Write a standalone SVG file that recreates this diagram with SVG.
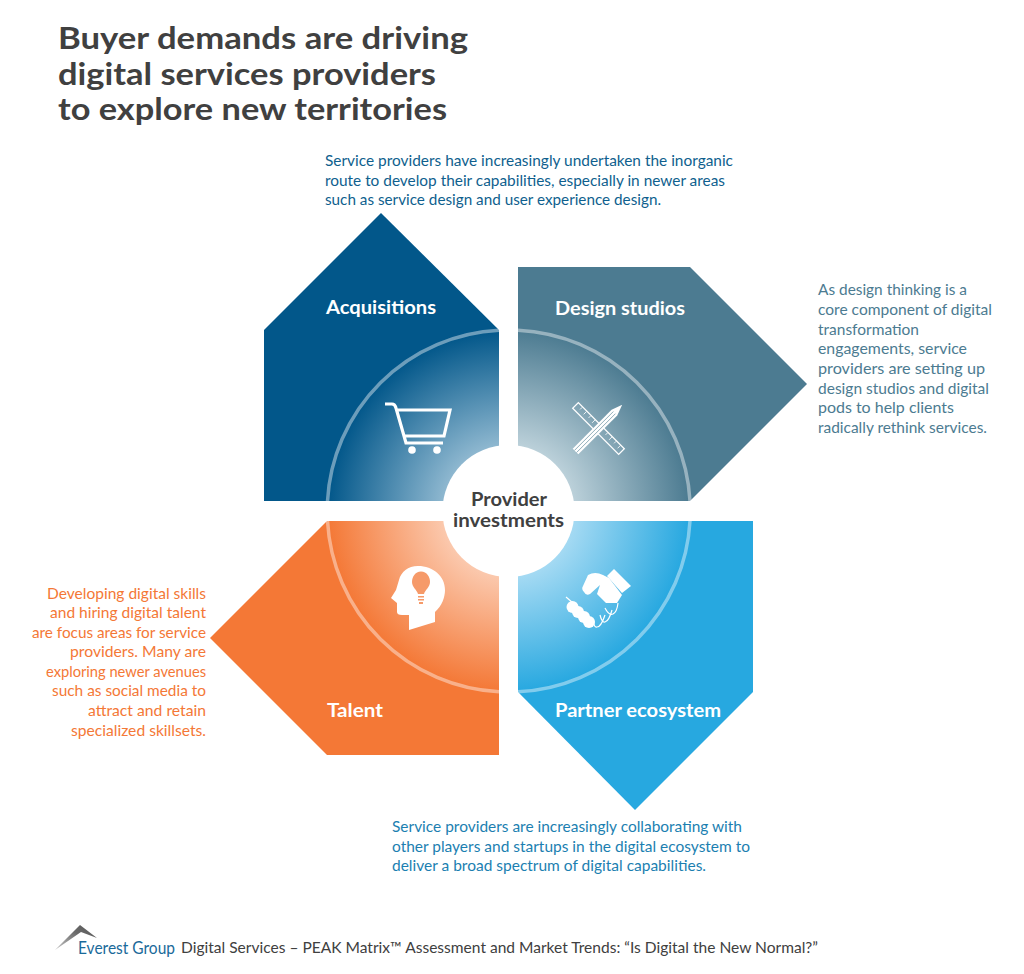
<svg xmlns="http://www.w3.org/2000/svg" width="1024" height="974" viewBox="0 0 1024 974">
<style>
text{font-family:"Lato","Open Sans","Liberation Sans",sans-serif}
.title{font-size:30px;font-weight:700;fill:#404040}
.body{font-size:15px}
.lab{font-size:19.500px;font-weight:700;fill:#fff;text-anchor:middle}
.arc{fill:none;stroke:#fff;stroke-opacity:.42;stroke-width:3.500}
.ico{fill:none;stroke:#fff;stroke-width:3.200}
.w{fill:#fff}
.thin{fill:none;stroke:#fff;stroke-width:1.200}
.end{text-anchor:end}
</style>
<defs>
<radialGradient id="gA" gradientUnits="userSpaceOnUse" cx="508.500" cy="511" r="181"><stop offset=".36" stop-color="#8fb8d0"/><stop offset="1" stop-color="#02578a"/></radialGradient>
<radialGradient id="gD" gradientUnits="userSpaceOnUse" cx="508.500" cy="511" r="181"><stop offset=".36" stop-color="#bcd1da"/><stop offset="1" stop-color="#4c7b91"/></radialGradient>
<radialGradient id="gT" gradientUnits="userSpaceOnUse" cx="508.500" cy="511" r="181"><stop offset=".36" stop-color="#fbc9ae"/><stop offset="1" stop-color="#f47836"/></radialGradient>
<radialGradient id="gP" gradientUnits="userSpaceOnUse" cx="508.500" cy="511" r="181"><stop offset=".36" stop-color="#a5daf3"/><stop offset="1" stop-color="#27a8e0"/></radialGradient>
<linearGradient id="gL" x1="0" y1="1" x2="1" y2="0"><stop offset="0" stop-color="#c8c8c8"/><stop offset=".6" stop-color="#6a6a6a"/><stop offset="1" stop-color="#555"/></linearGradient>
</defs>
<rect width="1024" height="974" fill="#fff"/>
<g id="title">
<text class="title" x="58" y="49" textLength="410" lengthAdjust="spacingAndGlyphs">Buyer demands are driving</text>
<text class="title" x="58" y="85" textLength="378" lengthAdjust="spacingAndGlyphs">digital services providers</text>
<text class="title" x="58" y="120" textLength="389" lengthAdjust="spacingAndGlyphs">to explore new territories</text>
</g>
<g id="acquisitions">
<polygon points="381,213 499,330 499,501 264,501 264,330" fill="#02578a"/>
<path d="M327.500,501A181,181 0 0 1 499,330.200V501Z" fill="url(#gA)"/>
<path class="arc" d="M327.500,501A181,181 0 0 1 499,330.200"/>
<text class="lab" x="381" y="314" textLength="110" lengthAdjust="spacingAndGlyphs">Acquisitions</text>
<g id="icon-cart">
<path class="ico" d="M385,404H392Q395,404 396,408L406,443H443M398,410H450L444,436H404"/>
<circle class="w" cx="412" cy="450" r="3.800"/><circle class="w" cx="437" cy="450" r="3.800"/>
</g>
</g>
<g id="design-studios">
<polygon points="518,267 690,267 807,384 690,501 518,501" fill="#4c7b91"/>
<path d="M518,330.200A181,181 0 0 1 690,501H518Z" fill="url(#gD)"/>
<path class="arc" d="M518,330.200A181,181 0 0 1 690,501"/>
<text class="lab" x="620" y="315" textLength="130" lengthAdjust="spacingAndGlyphs">Design studios</text>
<g id="icon-tools">
<g transform="rotate(45 598.500 428.500)"><rect x="566" y="424.500" width="65" height="8" fill="none" stroke="#fff" stroke-width="1.300"/><path d="M572,425v3M578,425v4M584,425v3M590,425v4M608,425v3M614,425v4M620,425v3M626,425v4" stroke="#fff" stroke-width=".8"/></g>
<g transform="rotate(-45 598.500 428.500)"><path class="w" d="M566,424.500H621L632,428.500L621,432.500H566Z"/><path d="M566,427h55M566,430h55" stroke="#7d9fae" stroke-width=".8"/></g>
</g>
</g>
<g id="talent">
<polygon points="499,521 327,521 210,638 327,755 499,755" fill="#f47836"/>
<path d="M327.500,521A181,181 0 0 0 499,691.800V521Z" fill="url(#gT)"/>
<path class="arc" d="M327.500,521A181,181 0 0 0 499,691.800"/>
<text class="lab" x="355" y="717" textLength="56" lengthAdjust="spacingAndGlyphs">Talent</text>
<g id="icon-head">
<path class="w" d="M418,566C408,566 401,572 399,580L396,590L391,598L397,603V612Q397,615 402,615H409V630L435,622V612C442,606 445,597 445,590C445,576 433,566 418,566Z"/>
<path d="M421,571.500C415,571.500 412,577 412,582C412,587 417,590 418,594H424C425,590 430,587 430,582C430,577 427,571.500 421,571.500ZM418,596H424V597.500H418ZM418,599H424V600.500H418ZM419,602H423V604H419Z" fill="#f69a69"/>
</g>
</g>
<g id="partner-ecosystem">
<polygon points="518,521 753,521 753,692 635,810 518,692" fill="#27a8e0"/>
<path d="M690,521A181,181 0 0 1 518,691.800V521Z" fill="url(#gP)"/>
<path class="arc" d="M690,521A181,181 0 0 1 518,691.800"/>
<text class="lab" x="638" y="717" textLength="166" lengthAdjust="spacingAndGlyphs">Partner ecosystem</text>
<g id="icon-hands">
<polygon class="w" points="614,569 631,586 622,593 607,576"/>
<path class="w" d="M588,575Q595,571 603,575L609,578L622,595L617,603H606L597,594L600,585L590,594Q586,596 584,592Q581,589 583,586Z"/>
<circle class="w" cx="572.500" cy="607" r="6"/><circle class="w" cx="578" cy="612" r="6"/><circle class="w" cx="584" cy="617" r="6"/><circle class="w" cx="589" cy="622" r="6"/>
<path class="thin" d="M566,597L573,603M593,620Q594,628 597,627Q601,627 605,615M600,615Q602,623 605,622Q609,621 612,610M605,608Q609,616 613,614Q617,612 618,603"/>
</g>
</g>
<g id="center">
<circle cx="508.500" cy="511" r="66" fill="#fff"/>
<text x="509" y="506" font-size="18.500" font-weight="700" fill="#404040" text-anchor="middle" textLength="76" lengthAdjust="spacingAndGlyphs">Provider</text>
<text x="508.500" y="527" font-size="18.500" font-weight="700" fill="#404040" text-anchor="middle" textLength="111" lengthAdjust="spacingAndGlyphs">investments</text>
</g>
<g id="note-top" class="body" fill="#0f5f8e">
<text x="325" y="166" textLength="408" lengthAdjust="spacingAndGlyphs">Service providers have increasingly undertaken the inorganic</text>
<text x="325" y="186" textLength="400" lengthAdjust="spacingAndGlyphs">route to develop their capabilities, especially in newer areas</text>
<text x="325" y="205" textLength="336" lengthAdjust="spacingAndGlyphs">such as service design and user experience design.</text>
</g>
<g id="note-right" class="body" fill="#4c7b91">
<text x="818" y="295" textLength="149" lengthAdjust="spacingAndGlyphs">As design thinking is a</text>
<text x="818" y="315" textLength="174" lengthAdjust="spacingAndGlyphs">core component of digital</text>
<text x="818" y="335" textLength="101" lengthAdjust="spacingAndGlyphs">transformation</text>
<text x="818" y="354" textLength="149" lengthAdjust="spacingAndGlyphs">engagements, service</text>
<text x="818" y="374" textLength="167" lengthAdjust="spacingAndGlyphs">providers are setting up</text>
<text x="818" y="394" textLength="171" lengthAdjust="spacingAndGlyphs">design studios and digital</text>
<text x="818" y="413" textLength="136" lengthAdjust="spacingAndGlyphs">pods to help clients</text>
<text x="818" y="433" textLength="169" lengthAdjust="spacingAndGlyphs">radically rethink services.</text>
</g>
<g id="note-left" class="body" fill="#f47836">
<text class="end" x="206" y="599" textLength="159" lengthAdjust="spacingAndGlyphs">Developing digital skills</text>
<text class="end" x="206" y="618" textLength="156" lengthAdjust="spacingAndGlyphs">and hiring digital talent</text>
<text class="end" x="206" y="638" textLength="174" lengthAdjust="spacingAndGlyphs">are focus areas for service</text>
<text class="end" x="206" y="657" textLength="136" lengthAdjust="spacingAndGlyphs">providers. Many are</text>
<text class="end" x="206" y="677" textLength="160" lengthAdjust="spacingAndGlyphs">exploring newer avenues</text>
<text class="end" x="206" y="696" textLength="154" lengthAdjust="spacingAndGlyphs">such as social media to</text>
<text class="end" x="206" y="716" textLength="118" lengthAdjust="spacingAndGlyphs">attract and retain</text>
<text class="end" x="206" y="736" textLength="135" lengthAdjust="spacingAndGlyphs">specialized skillsets.</text>
</g>
<g id="note-bottom" class="body" fill="#1c7fb1">
<text x="392" y="832" textLength="350" lengthAdjust="spacingAndGlyphs">Service providers are increasingly collaborating with</text>
<text x="392" y="852" textLength="358" lengthAdjust="spacingAndGlyphs">other players and startups in the digital ecosystem to</text>
<text x="392" y="871" textLength="314" lengthAdjust="spacingAndGlyphs">deliver a broad spectrum of digital capabilities.</text>
</g>
<g id="footer">
<polygon points="55,950 80,925 97,938 81,932" fill="url(#gL)"/>
<text x="78" y="954" font-size="18" fill="#1a6a9a" textLength="97" lengthAdjust="spacingAndGlyphs">Everest Group</text>
<text x="181" y="953" font-size="15" fill="#404040" textLength="637" lengthAdjust="spacingAndGlyphs">Digital Services – PEAK Matrix™ Assessment and Market Trends: “Is Digital the New Normal?”</text>
</g>
</svg>
